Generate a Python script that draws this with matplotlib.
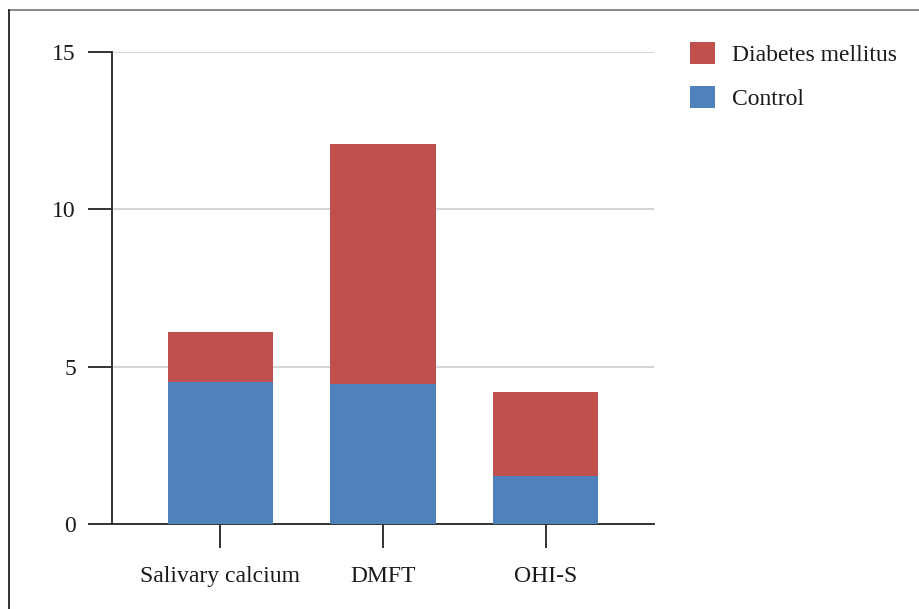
import matplotlib.pyplot as plt
from matplotlib.lines import Line2D
from matplotlib.patches import Patch

categories = ['Salivary calcium', 'DMFT', 'OHI-S']
control = [4.52, 4.45, 1.54]
diabetes_total = [6.09, 12.06, 4.19]
diabetes = [t - c for t, c in zip(diabetes_total, control)]
y_ticks = [0, 5, 10, 15]

red = '#C0504D'
blue = '#4F81BD'
axis_col = '#333333'

plt.rcParams['font.family'] = ['Liberation Serif', 'DejaVu Serif']

W, H = 919, 609
fig = plt.figure(figsize=(W / 100, H / 100), dpi=100)
ax = fig.add_axes([112 / W, 1 - 524.3 / H, (654 - 112) / W, (524.3 - 51.5) / H])

x = range(len(categories))
ax.bar(x, control, width=0.65, color=blue, zorder=3)
ax.bar(x, diabetes, bottom=control, width=0.65, color=red, zorder=3)

ax.set_xlim(-0.667, 2.667)
ax.set_ylim(0, 15)
ax.set_yticks(y_ticks)
ax.set_yticklabels([str(v) for v in y_ticks])
ax.set_xticks(list(x))
ax.set_xticklabels(categories)
ax.yaxis.grid(True, color='#d6d6d6', linewidth=1.5, zorder=0)
ax.set_axisbelow(True)

for s in ['top', 'right']:
    ax.spines[s].set_visible(False)
for s in ['left', 'bottom']:
    ax.spines[s].set_color(axis_col)
    ax.spines[s].set_linewidth(1.4)

ax.tick_params(axis='both', direction='out', length=17, width=1.4,
               color=axis_col, labelsize=17, labelcolor='#1a1a1a')
ax.tick_params(axis='x', pad=13)
ax.tick_params(axis='y', pad=9)

handles = [Patch(facecolor=red, label='Diabetes mellitus'),
           Patch(facecolor=blue, label='Control')]
fig.legend(handles=handles, loc='upper left',
           bbox_to_anchor=(669 / W, 1 - 21 / H), frameon=False,
           fontsize=17, handlelength=1.05, handleheight=1.05,
           handletextpad=0.7, labelspacing=0.85, labelcolor='#1a1a1a')

# page border (top and left only)
fig.add_artist(Line2D([9 / W, 1], [1 - 10 / H, 1 - 10 / H], color='#777777', linewidth=1.2))
fig.add_artist(Line2D([9 / W, 9 / W], [0, 1 - 10 / H], color='#111111', linewidth=1.2))

fig.savefig('out.png', dpi=100)
